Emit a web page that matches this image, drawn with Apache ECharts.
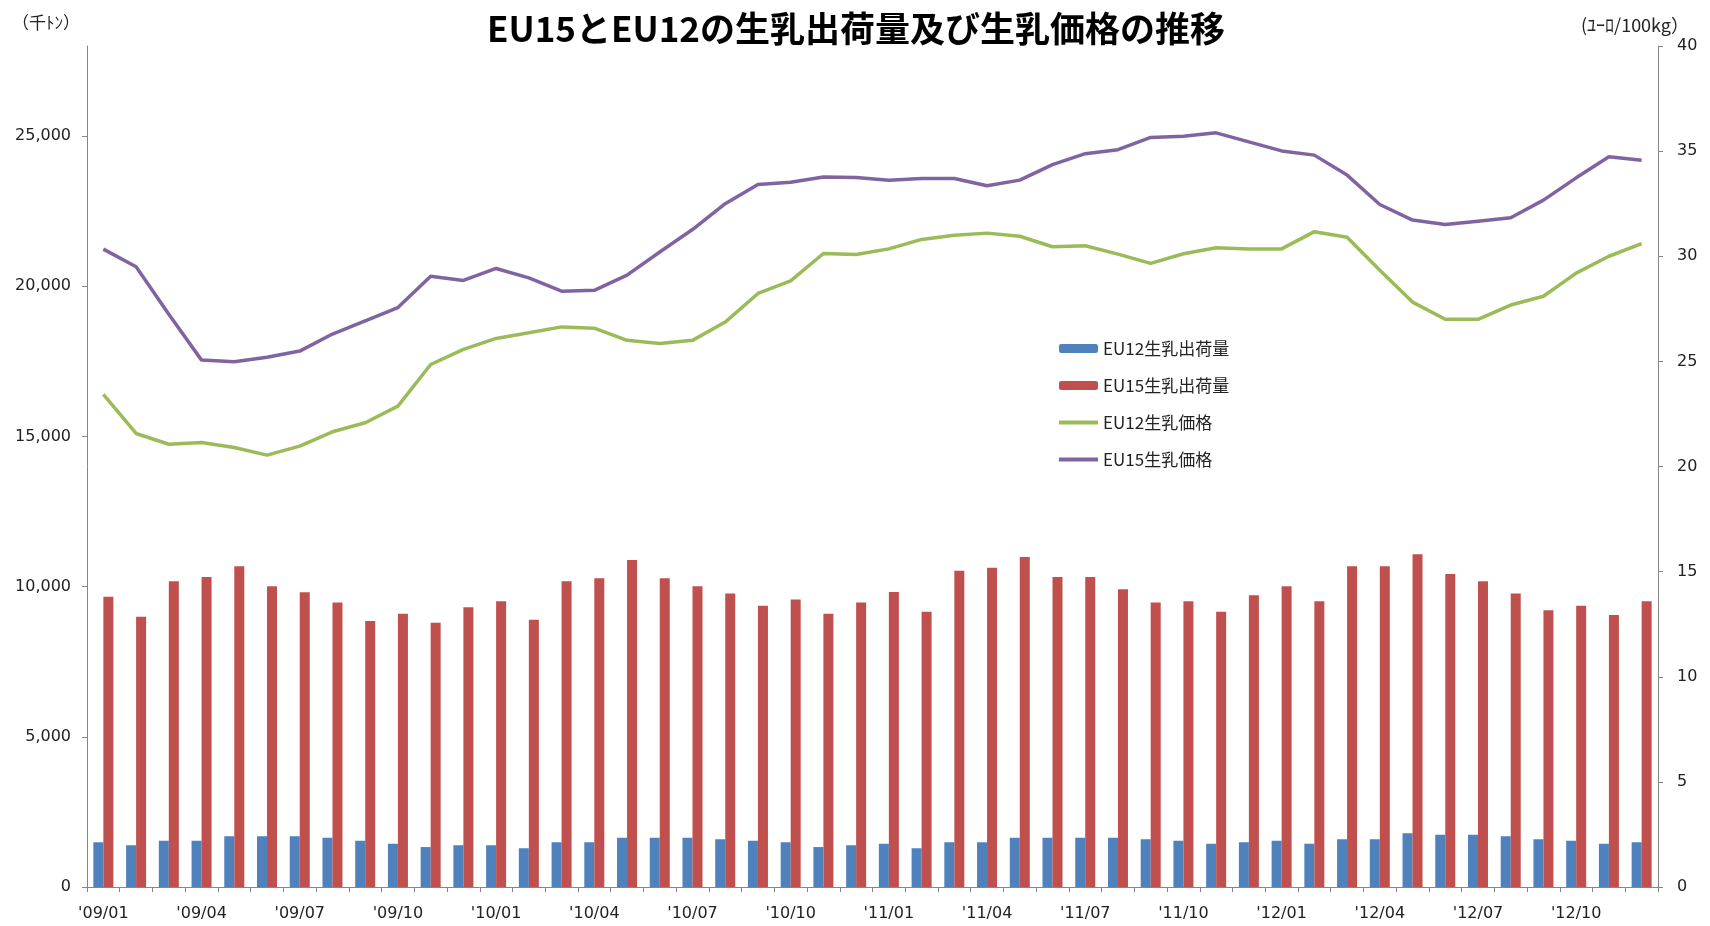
<!DOCTYPE html>
<html>
<head>
<meta charset="utf-8">
<script src="https://cdn.jsdelivr.net/npm/echarts@6/dist/echarts.min.js"></script>
<style>
html, body { margin: 0; padding: 0; background: #fff; }
#main { width: 1710px; height: 926px; }
</style>
</head>
<body>
<div id="main"></div>
<script>
// 月（'09/01 ～ '12/12）
var months = [
    "'09/01", "'09/02", "'09/03", "'09/04", "'09/05", "'09/06", "'09/07", "'09/08", "'09/09", "'09/10", "'09/11", "'09/12",
    "'10/01", "'10/02", "'10/03", "'10/04", "'10/05", "'10/06", "'10/07", "'10/08", "'10/09", "'10/10", "'10/11", "'10/12",
    "'11/01", "'11/02", "'11/03", "'11/04", "'11/05", "'11/06", "'11/07", "'11/08", "'11/09", "'11/10", "'11/11", "'11/12",
    "'12/01", "'12/02", "'12/03", "'12/04", "'12/05", "'12/06", "'12/07", "'12/08", "'12/09", "'12/10", "'12/11", "'12/12"
];
// 生乳出荷量（千トン）
var eu12Volume = [
    1490, 1390, 1540, 1540, 1690, 1690, 1690, 1640, 1540, 1440, 1330, 1390,
    1390, 1290, 1490, 1490, 1640, 1640, 1640, 1590, 1540, 1490, 1330, 1390,
    1440, 1290, 1490, 1490, 1640, 1640, 1640, 1640, 1590, 1540, 1440, 1490,
    1540, 1440, 1590, 1590, 1790, 1740, 1740, 1690, 1590, 1540, 1440, 1490
];
var eu15Volume = [
    9660, 9000, 10180, 10320, 10680, 10010, 9810, 9470, 8860, 9100, 8800, 9310,
    9510, 8900, 10180, 10280, 10890, 10280, 10010, 9770, 9360, 9570, 9100, 9470,
    9820, 9160, 10530, 10630, 10990, 10320, 10320, 9910, 9470, 9510, 9160, 9710,
    10010, 9510, 10680, 10680, 11080, 10420, 10180, 9770, 9210, 9360, 9060, 9510
];
// 生乳価格（ユーロ/100kg）
var eu12Price = [
    23.43, 21.57, 21.06, 21.14, 20.90, 20.54, 20.97, 21.65, 22.08, 22.87, 24.85, 25.57,
    26.09, 26.36, 26.64, 26.58, 26.00, 25.85, 26.00, 26.87, 28.23, 28.83, 30.13, 30.08,
    30.35, 30.80, 31.00, 31.10, 30.95, 30.45, 30.50, 30.10, 29.66, 30.12, 30.40, 30.35,
    30.35, 31.17, 30.90, 29.33, 27.82, 27.00, 27.00, 27.68, 28.10, 29.20, 30.00, 30.60
];
var eu15Price = [
    30.34, 29.50, 27.24, 25.06, 24.98, 25.20, 25.49, 26.30, 26.93, 27.56, 29.05, 28.85,
    29.42, 28.97, 28.34, 28.38, 29.10, 30.20, 31.27, 32.50, 33.41, 33.52, 33.77, 33.74,
    33.62, 33.70, 33.70, 33.35, 33.62, 34.36, 34.88, 35.07, 35.65, 35.71, 35.87, 35.44,
    35.01, 34.81, 33.86, 32.46, 31.72, 31.51, 31.67, 31.83, 32.67, 33.73, 34.73, 34.57
];
var leftTicks = [0, 5000, 10000, 15000, 20000, 25000];
var seriesNames = ['EU12生乳出荷量', 'EU15生乳出荷量', 'EU12生乳価格', 'EU15生乳価格'];
var colors = ['#4F81BD', '#C0504D', '#9BBB59', '#8064A2'];

var jpFont = '"Noto Sans CJK JP", "Noto Sans", sans-serif';
var numFont = '"DejaVu Sans", sans-serif';

var myChart = echarts.init(document.getElementById('main'));
var option = {
    backgroundColor: '#fff',
    animation: false,
    textStyle: { fontFamily: jpFont },
    title: [
        {
            text: 'EU15とEU12の生乳出荷量及び生乳価格の推移',
            left: 851, top: 6, textAlign: 'center',
            textStyle: { fontSize: 35, fontWeight: 'bold', color: '#000', fontFamily: jpFont }
        },
        {
            text: '（千ﾄﾝ）',
            left: 7, top: 9,
            textStyle: { fontSize: 17, fontWeight: 'normal', color: '#222', fontFamily: jpFont }
        },
        {
            text: '(ﾕｰﾛ/100kg）',
            left: 1576, top: 11,
            textStyle: { fontSize: 18, fontWeight: 'normal', color: '#222', fontFamily: jpFont }
        }
    ],
    legend: {
        data: [
            { name: seriesNames[0] },
            { name: seriesNames[1] },
            { name: seriesNames[2], itemStyle: { opacity: 0 }, lineStyle: { width: 4, opacity: 1 } },
            { name: seriesNames[3], itemStyle: { opacity: 0 }, lineStyle: { width: 4, opacity: 1 } }
        ],
        orient: 'vertical',
        left: 1052, top: 335,
        itemWidth: 39, itemHeight: 9, itemGap: 20,
        textStyle: { fontSize: 17, color: '#222', fontFamily: jpFont }
    },
    grid: { left: 87, right: 52, top: 46, bottom: 39 },
    xAxis: {
        type: 'category',
        data: months,
        boundaryGap: true,
        axisLine: { lineStyle: { color: '#868686', width: 1 } },
        axisTick: { show: true, interval: 0, length: 5, lineStyle: { color: '#868686' } },
        axisLabel: { interval: 2, margin: 19, fontSize: 16, color: '#222', fontFamily: numFont }
    },
    yAxis: [
        {
            type: 'value',
            min: 0, max: 28000,
            splitLine: { show: false },
            axisLine: { show: true, lineStyle: { color: '#868686' } },
            axisTick: { show: true, length: 5, customValues: leftTicks, lineStyle: { color: '#868686' } },
            axisLabel: {
                customValues: leftTicks,
                fontSize: 16, color: '#222', margin: 16, fontFamily: numFont,
                formatter: function (v) { return v.toLocaleString('en-US'); }
            }
        },
        {
            type: 'value',
            min: 0, max: 40, interval: 5,
            position: 'right',
            splitLine: { show: false },
            axisLine: { show: true, lineStyle: { color: '#868686' } },
            axisTick: { show: true, length: 5, lineStyle: { color: '#868686' } },
            axisLabel: { fontSize: 16, color: '#222', margin: 19, fontFamily: numFont }
        }
    ],
    series: [
        {
            name: seriesNames[0], type: 'bar', yAxisIndex: 0,
            data: eu12Volume, barWidth: 10, barGap: '0%',
            itemStyle: { color: colors[0] }
        },
        {
            name: seriesNames[1], type: 'bar', yAxisIndex: 0,
            data: eu15Volume, barWidth: 10, barGap: '0%',
            itemStyle: { color: colors[1] }
        },
        {
            name: seriesNames[2], type: 'line', yAxisIndex: 1,
            data: eu12Price, symbol: 'none',
            lineStyle: { color: colors[2], width: 3.5 },
            itemStyle: { color: colors[2] }
        },
        {
            name: seriesNames[3], type: 'line', yAxisIndex: 1,
            data: eu15Price, symbol: 'none',
            lineStyle: { color: colors[3], width: 3.5 },
            itemStyle: { color: colors[3] }
        }
    ]
};
myChart.setOption(option);
window.addEventListener('resize', function () {
    myChart.resize();
});
</script>
</body>
</html>
